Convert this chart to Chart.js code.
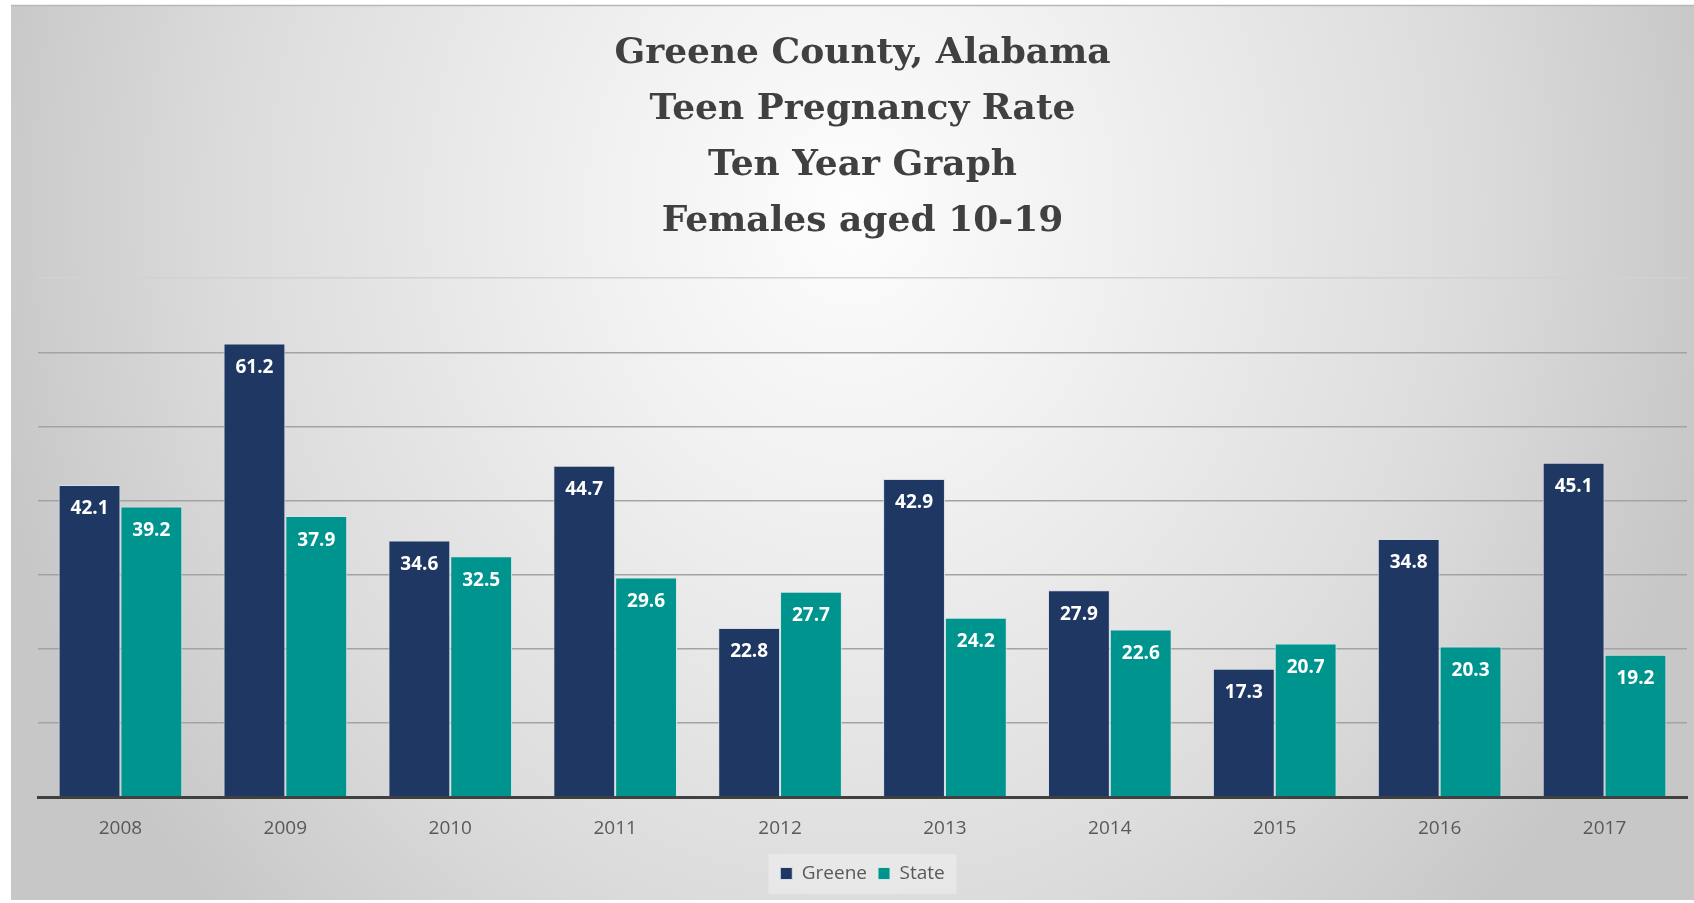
<!DOCTYPE html>
<html>
<head>
<meta charset="utf-8">
<title>Greene County Teen Pregnancy Rate</title>
<script src="https://cdn.jsdelivr.net/npm/chart.js@4.4.1/dist/chart.umd.min.js"></script>
<style>
  html, body { margin: 0; padding: 0; background: #fff; }
  canvas { display: block; }
</style>
</head>
<body>
<canvas id="chart" width="1694" height="903"></canvas>
<script>
const years = ["2008", "2009", "2010", "2011", "2012", "2013", "2014", "2015", "2016", "2017"];
const greene = [42.1, 61.2, 34.6, 44.7, 22.8, 42.9, 27.9, 17.3, 34.8, 45.1];
const state = [39.2, 37.9, 32.5, 29.6, 27.7, 24.2, 22.6, 20.7, 20.3, 19.2];
const titleLines = ["Greene County, Alabama", "Teen Pregnancy Rate", "Ten Year Graph", "Females aged 10-19"];

// gray panel with a soft radial light behind the title
const panelBackground = {
  id: "panelBackground",
  beforeDraw(chart) {
    const ctx = chart.ctx;
    ctx.save();
    ctx.fillStyle = "#fff";
    ctx.fillRect(0, 0, chart.width, chart.height);
    ctx.beginPath();
    ctx.rect(11, 5, chart.width - 11, chart.height - 5);
    ctx.clip();
    ctx.translate(850, 210);
    ctx.scale(1, 1.15);
    const g = ctx.createRadialGradient(0, 0, 0, 0, 0, 880);
    g.addColorStop(0, "#fdfdfd");
    g.addColorStop(0.3, "#f0f0f0");
    g.addColorStop(0.7, "#dcdcdc");
    g.addColorStop(1, "#c7c7c7");
    ctx.fillStyle = g;
    ctx.fillRect(-900, -300, 1800, 900);
    ctx.restore();

    ctx.save();
    ctx.strokeStyle = "#b8b8b8";
    ctx.lineWidth = 1.5;
    ctx.beginPath();
    ctx.moveTo(11, 5.5);
    ctx.lineTo(chart.width, 5.5);
    ctx.stroke();

    // light box behind the legend
    const lg = chart.legend;
    if (lg) {
      ctx.fillStyle = "rgba(255,255,255,0.3)";
      ctx.fillRect(lg.left + lg.width / 2 - 94, lg.top + 1, 188, 40);
    }
    ctx.restore();
  }
};

const barLabels = {
  id: "barLabels",
  afterDatasetsDraw(chart) {
    const ctx = chart.ctx;
    ctx.save();
    ctx.fillStyle = "#ffffff";
    ctx.font = "bold 19px 'Open Sans'";
    ctx.textAlign = "center";
    ctx.textBaseline = "middle";
    chart.data.datasets.forEach((ds, i) => {
      chart.getDatasetMeta(i).data.forEach((bar, j) => {
        ctx.fillText(ds.data[j].toFixed(1), bar.x, bar.y + 24);
      });
    });
    ctx.restore();
  }
};

new Chart(document.getElementById("chart"), {
  type: "bar",
  data: {
    labels: years,
    datasets: [
      {
        label: "Greene",
        data: greene,
        backgroundColor: "#1f3763",
        borderColor: "#d6dde6",
        borderWidth: 1,
        borderSkipped: "bottom",
        categoryPercentage: 0.75,
        barPercentage: 1.0
      },
      {
        label: "State",
        data: state,
        backgroundColor: "#00948f",
        borderColor: "#d6e6e6",
        borderWidth: 1,
        borderSkipped: "bottom",
        categoryPercentage: 0.75,
        barPercentage: 1.0
      }
    ]
  },
  options: {
    responsive: false,
    animation: false,
    devicePixelRatio: 1,
    layout: {
      padding: { left: 38, right: 7, top: 0, bottom: 10 }
    },
    scales: {
      x: {
        grid: { display: false },
        border: { display: true, color: "#404040", width: 3 },
        ticks: {
          color: "#595959",
          font: { family: "'Open Sans'", size: 19 },
          padding: 12
        },
        afterFit(scale) { scale.height = 56; }
      },
      y: {
        min: 0,
        max: 70,
        ticks: { display: false, stepSize: 10 },
        border: { display: false },
        grid: {
          drawTicks: false,
          lineWidth: 1.5,
          color: (c) => c.tick.value === 0 ? "rgba(0,0,0,0)" : (c.tick.value === 70 ? "#d2d2d2" : "#a3a3a3")
        },
        afterFit(scale) { scale.width = 0; }
      }
    },
    plugins: {
      title: {
        display: true,
        text: titleLines,
        color: "#404040",
        font: { family: "'DejaVu Serif'", size: 36, weight: "bold", lineHeight: 1.55 },
        padding: { top: 26, bottom: 29 }
      },
      legend: {
        position: "bottom",
        labels: {
          color: "#595959",
          font: { family: "'Open Sans'", size: 19 },
          boxWidth: 12,
          boxHeight: 12,
          padding: 11,
          useBorderRadius: false
        }
      },
      tooltip: { enabled: false }
    }
  },
  plugins: [panelBackground, barLabels]
});
</script>
</body>
</html>
